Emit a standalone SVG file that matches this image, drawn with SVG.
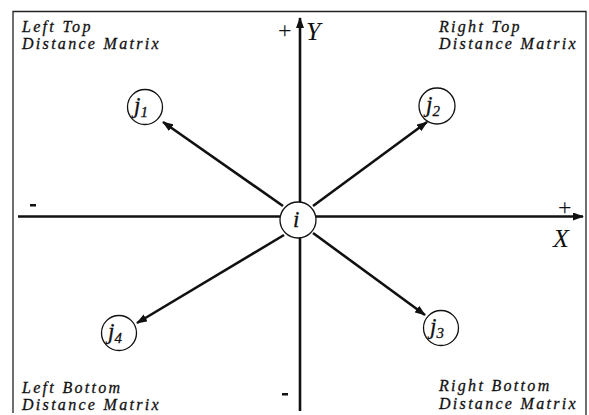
<svg xmlns="http://www.w3.org/2000/svg" width="589" height="415" viewBox="0 0 589 415">
<style>
.lbl{font-family:"Liberation Serif",serif;font-style:italic;font-size:16px;letter-spacing:2.3px;fill:#111;stroke:#111;stroke-width:0.3}
.ax{font-family:"Liberation Serif",serif;font-size:24px;fill:#111}
.axi{font-family:"Liberation Serif",serif;font-style:italic;font-size:26px;fill:#111}
.dash{fill:#111}
.node circle{fill:#fff;stroke:#111;stroke-width:1.3}
.node text{font-family:"Liberation Serif",serif;font-style:italic;font-size:23px;fill:#111;stroke:#111;stroke-width:0.3}
.sub{font-size:15px}
.conn line{stroke:#111;stroke-width:2.6}
</style>
<defs>
<marker id="ah" markerWidth="11" markerHeight="8" refX="10" refY="4" orient="auto" markerUnits="userSpaceOnUse">
<path d="M0,0 L11,4 L0,8 z" fill="#111"/>
</marker>
</defs>
<g id="frame" fill="none" stroke="#222" stroke-width="1.3">
<polyline points="13,413 13,11.5 586,11.5 586,415"/>
</g>
<g id="conn" class="conn">
<line x1="300" y1="411" x2="300" y2="18" marker-end="url(#ah)"/>
<line x1="18" y1="216.5" x2="583" y2="216.5" marker-end="url(#ah)"/>
<line x1="283" y1="206" x2="163" y2="122" marker-end="url(#ah)"/>
<line x1="313" y1="206" x2="427" y2="122" marker-end="url(#ah)"/>
<line x1="313" y1="233" x2="425" y2="315" marker-end="url(#ah)"/>
<line x1="284" y1="235" x2="137" y2="323" marker-end="url(#ah)"/>
</g>
<g id="n_i" class="node"><circle cx="298" cy="220" r="18"/><text x="293" y="227">i</text></g>
<g id="n_j1" class="node"><circle cx="145" cy="107" r="17.5"/><text x="134" y="113">j<tspan class="sub" dy="4">1</tspan></text></g>
<g id="n_j2" class="node"><circle cx="437" cy="106" r="18"/><text x="426" y="112">j<tspan class="sub" dy="4">2</tspan></text></g>
<g id="n_j3" class="node"><circle cx="441" cy="328" r="17.5"/><text x="430" y="334">j<tspan class="sub" dy="4">3</tspan></text></g>
<g id="n_j4" class="node"><circle cx="119" cy="333" r="17.5"/><text x="108" y="339">j<tspan class="sub" dy="4">4</tspan></text></g>
<g id="labels">
<text class="lbl" x="22" y="32">Left Top</text>
<text class="lbl" x="22" y="49">Distance Matrix</text>
<text class="lbl" x="439" y="32">Right Top</text>
<text class="lbl" x="439" y="49">Distance Matrix</text>
<text class="lbl" x="22" y="393">Left Bottom</text>
<text class="lbl" x="22" y="410">Distance Matrix</text>
<text class="lbl" x="439" y="391">Right Bottom</text>
<text class="lbl" x="439" y="409">Distance Matrix</text>
<text class="ax" x="278" y="38">+</text>
<text class="axi" x="306" y="40">Y</text>
<rect class="dash" x="30" y="204" width="6" height="2.5"/>
<text class="ax" x="558" y="215">+</text>
<text class="axi" x="553" y="247">X</text>
<rect class="dash" x="282" y="393" width="6" height="2.5"/>
</g>
</svg>
